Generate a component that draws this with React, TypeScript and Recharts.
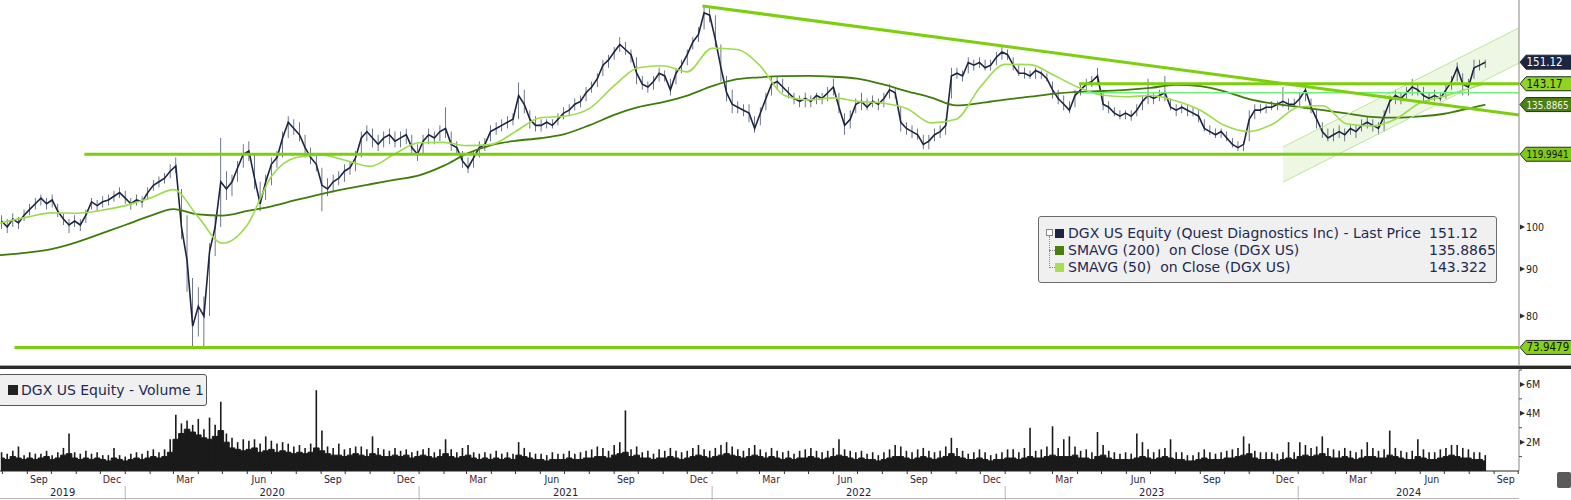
import React from 'react';
import { ComposedChart, Bar, Line, Area, XAxis, YAxis, ReferenceLine } from 'recharts';

const FONT = '"DejaVu Sans Condensed", "DejaVu Sans", sans-serif';
const LEGEND_FONT = '"DejaVu Sans", sans-serif';
const DAY = 86400000;
const T0 = Date.UTC(2019, 6, 29);
const T1 = Date.UTC(2024, 9, 2);
const FIRST_WEEK = Date.UTC(2019, 6, 31);
const FIRST_MONTH = { y: 2019, m: 7 };

// weekly prices (Aug 2019 -> Aug 2024)
const weekClose = [
  101.5, 100, 102, 101, 103, 104.5, 106, 107.5, 106, 107,
  104, 102, 100.5, 101.5, 100.5, 103, 106.5, 105.5, 106.5, 107,
  108, 109, 107.5, 106, 107, 106.5, 109, 111, 112, 113,
  115, 116.5, 100, 92, 78, 82, 80, 94, 100, 112,
  110, 112, 116, 120, 121, 113, 106, 112, 117, 119,
  125, 130, 128, 126, 122, 119, 117, 111, 110, 112,
  113, 115, 116, 119, 125, 127, 125, 123, 125, 126,
  124, 125, 126, 122, 120, 124, 126, 125, 127, 128,
  123, 122, 118, 116, 119, 122, 123, 127, 128, 129,
  130, 131, 139, 136, 131, 129, 129, 130, 129, 131,
  133, 134, 136, 137, 140, 142, 145, 150, 152, 155,
  158, 156, 154, 147, 143, 142, 144, 147, 146, 141,
  147, 150, 154, 159, 162, 171, 170, 160, 149, 140,
  136, 135, 134, 133, 128, 133, 138, 143, 144, 142,
  140, 138, 137, 138, 137, 139, 138, 140, 142, 135,
  129, 131, 136, 137, 135, 137, 136, 138, 141, 140,
  130, 128, 127, 126, 123, 124, 126, 127, 129, 146,
  147, 146, 151, 150, 151, 149, 150, 153, 155, 154,
  150, 147, 147, 146, 148, 147, 145, 141, 138, 136,
  134, 139, 141, 143, 144, 146, 136, 135, 133, 132,
  133, 132, 134, 137, 139, 138, 139, 140, 135, 134,
  135, 134, 133, 132, 128, 127, 126, 127, 125, 123,
  122, 123, 131, 134, 134, 135, 135, 136, 137, 136,
  136, 138, 141, 135, 131, 127, 125, 126, 127, 126,
  128, 127, 129, 130, 129, 128, 132, 137, 139, 138,
  140, 142, 141, 139, 138, 139, 138, 141, 144, 149,
  143, 142, 149, 150, 151.12,
];
const weekLow = [
  99.5, 98.5, 100, 99.5, 101.5, 103, 104.5, 105.5, 104.5, 105,
  102.5, 100.5, 98.5, 100, 99, 101, 104.5, 104, 105, 105.5,
  106.5, 107.5, 106, 104.5, 105.5, 105, 107, 109.5, 110.5, 111.5,
  113, 114.5, 97, 85, 73.9, 76, 74, 80, 93, 100,
  107, 108, 112, 116, 118, 110, 104, 107, 111, 116,
  119, 125, 126, 124, 119, 117, 115, 104, 108, 109,
  111, 112, 114, 115, 119, 124, 122, 121, 122, 123,
  122, 122, 123, 120, 118, 120, 123, 123, 124, 125,
  121, 120, 116, 114.5, 116, 119, 121, 124, 126, 127,
  128, 129, 131, 133, 128, 127, 127, 128, 128, 129,
  131, 132, 134, 135, 137, 140, 142, 146, 149, 152,
  155, 154, 151, 143, 141, 140, 141, 144, 144, 139,
  143, 147, 150, 156, 159, 164, 167, 157, 144, 137,
  133, 133, 132, 130, 126.6, 129, 134, 139, 141, 140,
  138, 136, 135, 135, 135, 136, 136, 137, 139, 133,
  126, 128, 133, 134, 134, 135, 134, 135, 138, 138,
  127, 126, 125, 124.5, 121.5, 121.5, 124, 125, 126, 138,
  145, 144, 147, 148, 149, 148, 148, 150, 152, 152,
  148, 146, 145, 145, 145, 145, 144, 138, 136, 134,
  133, 135, 139, 140, 142, 143, 134, 133, 132, 131,
  131, 130.5, 132, 134, 136, 136, 137, 137, 134, 132,
  133, 132, 132, 130, 127, 126, 125, 125, 124, 122,
  121, 121, 124, 131, 133, 133, 134, 134, 135, 134,
  135, 135, 137, 133, 128, 125, 124, 124, 125, 124,
  126, 125, 127, 128, 127, 126, 127, 133, 136, 136,
  138, 139, 139, 137, 137, 137, 137, 138, 141, 144,
  139, 139, 145, 148, 149,
];
const weekHigh = [
  103, 102, 103.5, 102.5, 104.5, 106, 107.5, 108.5, 107.5, 108.5,
  106, 103.5, 102, 103, 102, 104.5, 107.5, 107, 108, 108.5,
  109.5, 110.5, 109.5, 107.5, 108.5, 108, 110.5, 112.5, 113.5, 114.5,
  117, 119, 110, 103, 88, 86, 84, 96, 103, 125,
  115, 114, 118, 123, 124, 120, 112, 114, 119, 121,
  127, 132, 131, 130, 126, 122, 120, 116, 113, 114,
  115, 117, 118, 121, 127, 129, 128, 126, 127, 128,
  127, 127, 128, 126, 123, 126, 128, 127, 129, 135,
  127, 124, 121, 119, 121, 124, 125, 129, 130, 131,
  132, 133, 143.6, 141, 134, 132, 131, 131, 131, 133,
  135, 136, 138, 139, 142, 144, 147, 152, 154, 157,
  161, 159, 156, 153, 146, 144, 146, 149, 148, 145,
  149, 152, 156, 161, 165, 174, 173, 170, 158, 146,
  141, 137, 136, 136, 132, 135, 140, 146, 146, 145,
  142, 140, 139, 140, 139, 140, 140, 142, 145, 140,
  133, 134, 138, 140, 138, 139, 138, 140, 143, 142,
  135, 130, 129, 128, 126, 126, 128, 129, 131, 149,
  149, 148, 153, 152, 153, 152, 152, 155, 157, 156,
  153, 150, 149, 148, 149, 148, 147, 144, 141, 139,
  137, 141, 143, 145, 146, 149, 141, 137, 135, 134,
  134, 134, 136, 139, 145, 140, 141, 146, 138, 136,
  136, 136, 135, 134, 131, 129, 128, 128, 127, 125,
  124, 124, 134, 136, 136, 136, 137, 137, 142, 138,
  138, 140, 142.6, 138, 134, 130, 128, 128, 129, 128,
  129, 129, 131, 132, 131, 130, 134, 139, 141, 140,
  142, 145, 143, 142, 140, 141, 140, 143, 146, 151,
  147, 145, 152, 152, 152,
];

// weekly volume in millions: typical day and busiest day
const volBase = [
  0.9, 0.8, 1.0, 0.9, 0.8, 0.9, 0.8, 0.9, 1.0, 0.8,
  0.9, 1.1, 1.2, 0.9, 0.8, 0.9, 0.8, 0.9, 0.8, 0.7,
  0.9, 0.8, 0.7, 0.8, 0.9, 0.8, 0.9, 1.0, 0.9, 1.0,
  1.3, 2.2, 2.6, 2.9, 2.7, 2.5, 2.3, 2.2, 2.4, 2.8,
  2.0, 1.6, 1.5, 1.4, 1.5, 1.6, 1.3, 1.4, 1.5, 1.3,
  1.4, 1.3, 1.2, 1.3, 1.2, 1.3, 1.6, 1.4, 1.2, 1.1,
  1.1, 1.0, 1.1, 1.2, 1.1, 1.0, 1.2, 1.1, 1.0, 1.0,
  1.1, 1.0, 1.1, 0.9, 1.0, 1.1, 1.0, 0.9, 1.0, 1.2,
  1.0, 0.9, 1.0, 1.1, 0.9, 0.8, 0.9, 0.8, 0.9, 0.8,
  0.9, 0.8, 1.1, 1.0, 0.9, 0.8, 0.8, 0.7, 0.8, 0.8,
  0.8, 0.9, 0.8, 0.8, 0.9, 0.9, 1.0, 1.0, 0.9, 1.1,
  1.2, 1.3, 1.0, 1.1, 0.9, 0.9, 0.8, 0.9, 0.9, 1.0,
  0.9, 0.8, 0.9, 1.0, 1.1, 1.0, 0.9, 1.0, 1.1, 1.2,
  1.1, 1.0, 0.9, 1.0, 1.1, 1.0, 0.9, 1.0, 0.9, 0.8,
  0.9, 0.8, 0.9, 0.9, 1.0, 0.9, 0.8, 0.9, 1.0, 1.1,
  1.0, 0.9, 0.8, 0.9, 0.8, 0.8, 0.7, 0.8, 0.9, 1.0,
  1.0, 0.9, 0.8, 0.9, 1.0, 0.9, 0.8, 0.9, 1.0, 1.2,
  1.0, 0.9, 0.8, 0.8, 0.9, 0.8, 0.7, 0.8, 0.8, 0.9,
  0.9, 0.8, 0.9, 1.0, 0.9, 0.9, 1.0, 1.1, 1.0, 1.0,
  1.0, 1.1, 0.9, 0.9, 0.8, 1.0, 1.1, 0.9, 0.8, 0.8,
  0.8, 0.8, 0.9, 1.0, 0.9, 0.8, 0.9, 1.0, 0.9, 0.8,
  0.8, 0.7, 0.7, 0.8, 0.9, 0.8, 0.8, 0.8, 0.9, 0.9,
  1.0, 1.1, 1.2, 0.9, 0.8, 0.8, 0.8, 0.7, 0.8, 0.9,
  0.8, 1.0, 1.1, 1.0, 1.1, 1.2, 1.0, 0.9, 0.9, 1.0,
  0.9, 0.8, 0.9, 1.0, 1.0, 0.9, 0.9, 1.1, 1.0, 0.9,
  0.8, 0.8, 1.0, 0.9, 0.8, 0.8, 0.9, 1.0, 1.1, 1.0,
  0.9, 0.9, 0.8, 0.8, 0.7,
];
const volPeak = [
  1.3, 1.2, 1.4, 1.7, 1.1, 1.3, 1.2, 1.2, 1.4, 1.1,
  1.3, 1.6, 2.6, 1.3, 1.2, 1.4, 1.2, 1.3, 1.1, 1.1,
  1.6, 1.1, 1.0, 1.2, 1.3, 1.2, 1.4, 1.5, 1.3, 1.5,
  2.2, 3.9, 3.3, 3.5, 3.2, 3.6, 2.9, 3.7, 3.2, 4.8,
  2.6, 2.3, 2.0, 2.2, 2.1, 2.2, 1.9, 2.4, 2.1, 1.9,
  2.0, 1.9, 1.7, 1.8, 1.6, 1.9, 5.6, 2.8, 1.7, 1.6,
  1.9, 1.5, 1.6, 1.7, 1.7, 1.5, 2.4, 1.6, 1.5, 1.4,
  1.6, 1.4, 1.5, 1.3, 1.4, 1.5, 1.6, 1.3, 1.5, 2.2,
  1.5, 1.3, 1.6, 1.8, 1.3, 1.2, 1.3, 1.2, 1.4, 1.2,
  1.3, 1.2, 2.0, 1.6, 1.3, 1.2, 1.2, 1.1, 1.3, 1.2,
  1.2, 1.4, 1.2, 1.3, 1.4, 1.5, 1.7, 1.6, 1.4, 1.8,
  2.0, 4.2, 1.5, 1.7, 1.3, 1.4, 1.2, 1.5, 1.4, 1.6,
  1.4, 1.3, 1.4, 1.6, 1.8, 1.5, 1.4, 1.6, 1.8, 2.0,
  1.7, 1.5, 1.4, 1.6, 1.8, 1.5, 1.3, 1.6, 1.4, 1.3,
  1.4, 1.2, 1.4, 1.5, 1.6, 1.4, 1.3, 1.4, 1.6, 2.2,
  1.5, 1.4, 1.3, 1.4, 1.2, 1.3, 1.1, 1.3, 1.5, 1.8,
  1.7, 1.4, 1.3, 1.5, 1.6, 1.4, 1.3, 1.4, 1.7, 2.3,
  1.6, 1.4, 1.2, 1.3, 1.5, 1.3, 1.1, 1.2, 1.3, 1.5,
  1.5, 1.3, 1.6, 3.0, 1.4, 1.5, 1.7, 3.1, 1.6, 2.2,
  2.4, 1.7, 1.4, 1.5, 1.3, 2.7, 1.8, 1.4, 1.3, 1.2,
  1.3, 1.2, 2.6, 2.0, 1.5, 1.3, 1.5, 1.6, 2.2, 1.3,
  1.3, 1.1, 1.1, 1.3, 1.5, 1.3, 1.2, 1.3, 1.4, 1.5,
  1.6, 2.4, 1.9, 1.4, 1.3, 1.3, 1.3, 1.2, 1.3, 2.0,
  1.3, 2.0, 1.8, 1.6, 1.7, 2.4, 1.6, 1.5, 1.4, 1.6,
  1.4, 1.3, 1.5, 2.0, 1.6, 1.4, 1.5, 2.8, 1.6, 1.4,
  1.3, 1.4, 2.2, 1.5, 1.3, 1.3, 1.5, 1.6, 1.8, 1.8,
  1.6, 1.5, 1.3, 1.3, 1.1,
];

// moving averages, first of each month from Aug 2019, plus last value
const sma200Monthly = [
  93.2, 93.8, 94.6, 96.2, 98.3,
  100.5, 102.8, 104.6, 103.2, 102.9, 104.1, 105.3, 107.0, 108.6, 110.0, 111.3, 112.5,
  113.8, 116.6, 120.1, 122.8, 124.1, 124.9, 126.2, 129.0, 132.4, 135.0, 136.7, 139.0,
  142.3, 144.8, 145.5, 145.9, 146.0, 145.7, 145.0, 143.0, 140.5, 138.3, 135.6, 136.4,
  137.6, 138.6, 139.6, 140.3, 140.6, 141.0, 141.7, 142.8, 142.3, 140.5, 137.8, 136.2,
  135.1, 134.0, 132.9, 131.8, 131.5, 131.9, 132.8, 134.6,
];
const sma50Monthly = [
  101.0, 102.5, 103.6, 103.5, 104.2,
  105.5, 107.5, 109.8, 102.5, 96.0, 100.5, 113.5, 119.0, 119.8, 118.2, 116.4, 120.0,
  123.5, 123.6, 122.6, 123.0, 127.0, 131.5, 132.0, 134.5, 142.5, 149.0, 149.8, 147.5,
  156.5, 156.0, 150.0, 139.0, 137.5, 138.2, 137.0, 136.4, 134.5, 129.8, 131.0, 142.0,
  150.3, 150.2, 146.5, 142.0, 139.2, 138.6, 139.0, 137.2, 134.0, 129.0, 127.0, 129.5,
  135.0, 135.5, 129.5, 128.8, 131.0, 136.5, 138.8, 141.5,
];
const LAST_DATE = Date.UTC(2024, 7, 21);
const lastSma200 = 135.8865;
const lastSma50 = 143.322;

// drawn annotations
const levelLines = [
  { from: Date.UTC(2019, 7, 16), price: 73.9479 },
  { from: Date.UTC(2019, 10, 11), price: 119.9941 },
  { from: Date.UTC(2023, 3, 3), price: 143.17 },
];
const thinLevel = { from: Date.UTC(2023, 3, 7), price: 140.0 };
const downTrend = { from: Date.UTC(2021, 11, 20), p1: 174.0, to: T1, p2: 132.4 };
const channel = { from: Date.UTC(2023, 11, 13), to: T1, lo1: 111.9, hi1: 122.2, lo2: 150.8, hi2: 164.7 };

const priceTags = [
  { value: 151.12, label: '151.12', bg: '#1c2541', fg: '#ffffff' },
  { value: 143.17, label: '143.17', bg: '#8fd41e', fg: '#111111' },
  { value: 135.8865, label: '135.8865', bg: '#4e7f12', fg: '#f2f7e8' },
  { value: 119.9941, label: '119.9941', bg: '#80c81a', fg: '#111111' },
  { value: 73.9479, label: '73.9479', bg: '#86d11c', fg: '#111111' },
];
const priceTicks = [80, 90, 100];
const volTicks = [1, 2, 3, 4, 5, 6, 7];
const volLabels = [2, 4, 6];

const legendRows = [
  { name: 'DGX US Equity (Quest Diagnostics Inc) - Last Price', value: '151.12', color: '#1c2541' },
  { name: 'SMAVG (200)  on Close (DGX US)', value: '135.8865', color: '#4a7f0c' },
  { name: 'SMAVG (50)  on Close (DGX US)', value: '143.322', color: '#a6e050' },
];
const monthNames = ['Jan', 'Feb', 'Mar', 'Apr', 'May', 'Jun', 'Jul', 'Aug', 'Sep', 'Oct', 'Nov', 'Dec'];

const weekRows = weekClose.map((c, i) => ({
  t: FIRST_WEEK + i * 7 * DAY,
  close: c,
  range: [weekLow[i], weekHigh[i]],
}));
const volRows = volBase.map((v, i) => ({ t: FIRST_WEEK + i * 7 * DAY, base: v, peak: volPeak[i] }));
const monthT = (k: number) => Date.UTC(FIRST_MONTH.y, FIRST_MONTH.m + k, 1);
const smaRows = (vals: number[], last: number) => [
  ...vals.map((v, k) => ({ t: k === 0 ? T0 : monthT(k), v })),
  { t: LAST_DATE, v: last },
];
const sma200Rows = smaRows(sma200Monthly, lastSma200);
const sma50Rows = smaRows(sma50Monthly, lastSma50);
const channelRows = [
  { t: channel.from, band: [channel.lo1, channel.hi1] },
  { t: channel.to, band: [channel.lo2, channel.hi2] },
];

// time axis ticks: month boundaries, quarter labels, year labels
const tickKind = new Map<number, string>();
for (let k = 0; k < 64; k++) {
  const s = monthT(k);
  if (s > T1) break;
  tickKind.set(s, 'month');
  const m = new Date(s).getUTCMonth();
  if (m % 3 === 2) {
    const mid = Date.UTC(new Date(s).getUTCFullYear(), m, 15, 12);
    if (mid < T1) tickKind.set(mid, 'label');
  }
}
for (let y = 2019; y <= 2024; y++) {
  const a = Math.max(Date.UTC(y, 0, 1), T0);
  const b = Math.min(Date.UTC(y + 1, 0, 1), T1);
  tickKind.set(Math.round((a + b) / 2), 'year');
}
const timeTicks = Array.from(tickKind.keys()).sort((a, b) => a - b);

function TimeTick(props: any) {
  const { x, y, payload } = props;
  const v = payload.value;
  const kind = tickKind.get(v);
  const d = new Date(v);
  if (kind === 'month') {
    const jan = d.getUTCMonth() === 0;
    return (
      <g>
        <line x1={x} x2={x} y1={y} y2={y + 3} stroke="#333" />
        {jan && <line x1={x} x2={x} y1={y + 15} y2={y + 29} stroke="#b5b5b5" />}
      </g>
    );
  }
  if (kind === 'label') {
    const m = d.getUTCMonth();
    return (
      <text x={x} y={y + 12} textAnchor="middle" fontSize={10.5} fontFamily={FONT}
        fill={m === 2 || m === 11 ? '#5a1c1c' : '#1c2340'}>
        {monthNames[m]}
      </text>
    );
  }
  return (
    <text x={x} y={y + 25} textAnchor="middle" fontSize={11} fontFamily={FONT} fill="#1c2340">
      {d.getUTCFullYear()}
    </text>
  );
}

function PriceTick(props: any) {
  const { x, y, payload } = props;
  const tag = priceTags.find((p) => p.value === payload.value);
  if (tag) {
    const long = tag.label.length >= 8;
    return (
      <g>
        <polygon
          points={`${x + 1},${y} ${x + 7},${y - 7} ${x + 53},${y - 7} ${x + 53},${y + 7} ${x + 7},${y + 7}`}
          fill={tag.bg} stroke="#2a2a2a" strokeWidth={1}
        />
        <text x={x + 7.5} y={y + 4} fontSize={long ? 9.8 : 11.5} fontFamily={FONT} fill={tag.fg}>
          {tag.label}
        </text>
      </g>
    );
  }
  return (
    <g>
      <polygon points={`${x + 1},${y - 2.5} ${x + 6},${y} ${x + 1},${y + 2.5}`} fill="#2b2b2b" />
      <text x={x + 7} y={y + 4} fontSize={10.5} fontFamily={FONT} fill="#222">{payload.value}</text>
    </g>
  );
}

function VolTick(props: any) {
  const { x, y, payload } = props;
  const v = payload.value;
  if (!volLabels.includes(v)) {
    return <line x1={x} x2={x + 3} y1={y} y2={y} stroke="#555" />;
  }
  return (
    <g>
      <polygon points={`${x + 1},${y - 2.5} ${x + 6},${y} ${x + 1},${y + 2.5}`} fill="#2b2b2b" />
      <text x={x + 7} y={y + 4} fontSize={10.5} fontFamily={FONT} fill="#222">{`${v}M`}</text>
    </g>
  );
}

export default function App() {
  return (
    <div style={{ position: 'relative', width: 1571, height: 500, background: '#fff', overflow: 'hidden', fontFamily: FONT }}>
      <style>{'body{margin:0}'}</style>

      <div style={{ position: 'absolute', left: 0, top: 0 }}>
        <ComposedChart width={1571} height={367} data={weekRows} margin={{ top: 0, right: 0, bottom: 0, left: 0 }}>
          <XAxis dataKey="t" type="number" domain={[T0, T1]} allowDataOverflow hide />
          <YAxis
            orientation="right" width={52} scale="log" domain={[70.41, 176.6]} allowDataOverflow
            ticks={[...priceTicks, ...priceTags.map((p) => p.value)].sort((a, b) => a - b)}
            interval={0} tickLine={false} tickSize={0} tickMargin={0}
            axisLine={{ stroke: '#8c8480' }} tick={<PriceTick />}
          />
          <Area data={channelRows} dataKey="band" type="linear" fill="#eef7e4" fillOpacity={1}
            stroke="none" dot={false} activeDot={false} isAnimationActive={false} />
          <Bar dataKey="range" fill="#3a4462" barSize={3.5} isAnimationActive={false} />
          <Line dataKey="close" type="linear" stroke="#1b2541" strokeWidth={1.6} dot={false} activeDot={false} isAnimationActive={false} />
          <Line data={sma200Rows} dataKey="v" type="monotone" stroke="#3e7d0a" strokeWidth={1.8} dot={false} activeDot={false} isAnimationActive={false} />
          <Line data={sma50Rows} dataKey="v" type="monotone" stroke="#9ddc4a" strokeWidth={1.6} dot={false} activeDot={false} isAnimationActive={false} />
          <ReferenceLine ifOverflow="visible" stroke="#bfe69a" strokeWidth={1}
            segment={[{ x: channel.from, y: channel.hi1 }, { x: channel.to, y: channel.hi2 }]} />
          <ReferenceLine ifOverflow="visible" stroke="#bfe69a" strokeWidth={1}
            segment={[{ x: channel.from, y: channel.lo1 }, { x: channel.to, y: channel.lo2 }]} />
          <ReferenceLine ifOverflow="visible" stroke="#6ef07a" strokeWidth={1.5}
            segment={[{ x: thinLevel.from, y: thinLevel.price }, { x: T1, y: thinLevel.price }]} />
          {levelLines.map((l) => (
            <ReferenceLine key={l.price} ifOverflow="visible" stroke="#7ccf0c" strokeWidth={3}
              segment={[{ x: l.from, y: l.price }, { x: T1, y: l.price }]} />
          ))}
          <ReferenceLine ifOverflow="visible" stroke="#7ccf0c" strokeWidth={3}
            segment={[{ x: downTrend.from, y: downTrend.p1 }, { x: downTrend.to, y: downTrend.p2 }]} />
        </ComposedChart>
      </div>

      <div style={{ position: 'absolute', left: 0, top: 367 }}>
        <ComposedChart width={1571} height={133} data={volRows} margin={{ top: 3, right: 0, bottom: 0, left: 0 }}>
          <XAxis dataKey="t" type="number" domain={[T0, T1]} allowDataOverflow ticks={timeTicks} interval={0}
            tickLine={false} tickSize={0} tickMargin={0} height={29} axisLine={{ stroke: '#222' }} tick={<TimeTick />} />
          <XAxis xAxisId="peak" dataKey="t" type="number" domain={[T0, T1]} allowDataOverflow hide />
          <YAxis orientation="right" width={52} domain={[0, 7]} allowDataOverflow ticks={volTicks} interval={0}
            tickLine={false} tickSize={0} tickMargin={0} axisLine={{ stroke: '#8c8480' }} tick={<VolTick />} />
          <Area dataKey="base" type="step" fill="#1a1a1a" fillOpacity={1} stroke="#1a1a1a" strokeWidth={1}
            dot={false} activeDot={false} isAnimationActive={false} />
          <Bar dataKey="peak" xAxisId="peak" fill="#1a1a1a" barSize={1.6} isAnimationActive={false} />
        </ComposedChart>
      </div>

      {/* panel separator */}
      <div style={{ position: 'absolute', left: 0, top: 365, width: 1571, height: 1, background: '#a8a8a8' }} />
      <div style={{ position: 'absolute', left: 0, top: 366, width: 1571, height: 3, background: '#2b2b2b' }} />
      <div style={{ position: 'absolute', left: 0, top: 498, width: 1519, height: 1, background: '#b5b5b5' }} />

      {/* price legend */}
      <div style={{
        position: 'absolute', left: 1038, top: 216, width: 459, height: 67, boxSizing: 'border-box',
        background: '#f0f0f0', border: '1px solid #6b6b6b', borderRadius: 3, color: '#1c2a55',
        fontSize: 14, fontFamily: LEGEND_FONT,
      }}>
        <div style={{ position: 'absolute', left: 7, top: 12, width: 5, height: 5, border: '1px solid #888', background: '#fff' }} />
        <div style={{ position: 'absolute', left: 10, top: 19, width: 0, height: 32, borderLeft: '1px dotted #888' }} />
        <div style={{ position: 'absolute', left: 10, top: 33, width: 6, height: 0, borderTop: '1px dotted #888' }} />
        <div style={{ position: 'absolute', left: 10, top: 50, width: 6, height: 0, borderTop: '1px dotted #888' }} />
        {legendRows.map((r, i) => (
          <div key={r.name} style={{ position: 'absolute', left: 0, top: 8 + i * 17, width: '100%', height: 17 }}>
            <div style={{ position: 'absolute', left: 16, top: 4, width: 9, height: 9, background: r.color }} />
            <div style={{ position: 'absolute', left: 29, top: 0, whiteSpace: 'pre', lineHeight: '17px' }}>{r.name}</div>
            <div style={{ position: 'absolute', left: 390, top: 0, whiteSpace: 'pre', lineHeight: '17px' }}>{r.value}</div>
          </div>
        ))}
      </div>

      {/* volume legend */}
      <div style={{
        position: 'absolute', left: -2, top: 374, width: 209, height: 32, boxSizing: 'border-box',
        background: '#f0f0f0', border: '1px solid #555', borderRadius: 3, color: '#1c2a55',
        fontSize: 14, fontFamily: LEGEND_FONT,
      }}>
        <div style={{ position: 'absolute', left: 9, top: 10, width: 10, height: 10, background: '#222' }} />
        <div style={{ position: 'absolute', left: 22, top: 6, whiteSpace: 'pre', lineHeight: '18px' }}>DGX US Equity - Volume 1</div>
      </div>

      <div style={{ position: 'absolute', left: 1557, top: 472, width: 14, height: 16, background: '#5a5a5a', borderRadius: 2 }} />
    </div>
  );
}
